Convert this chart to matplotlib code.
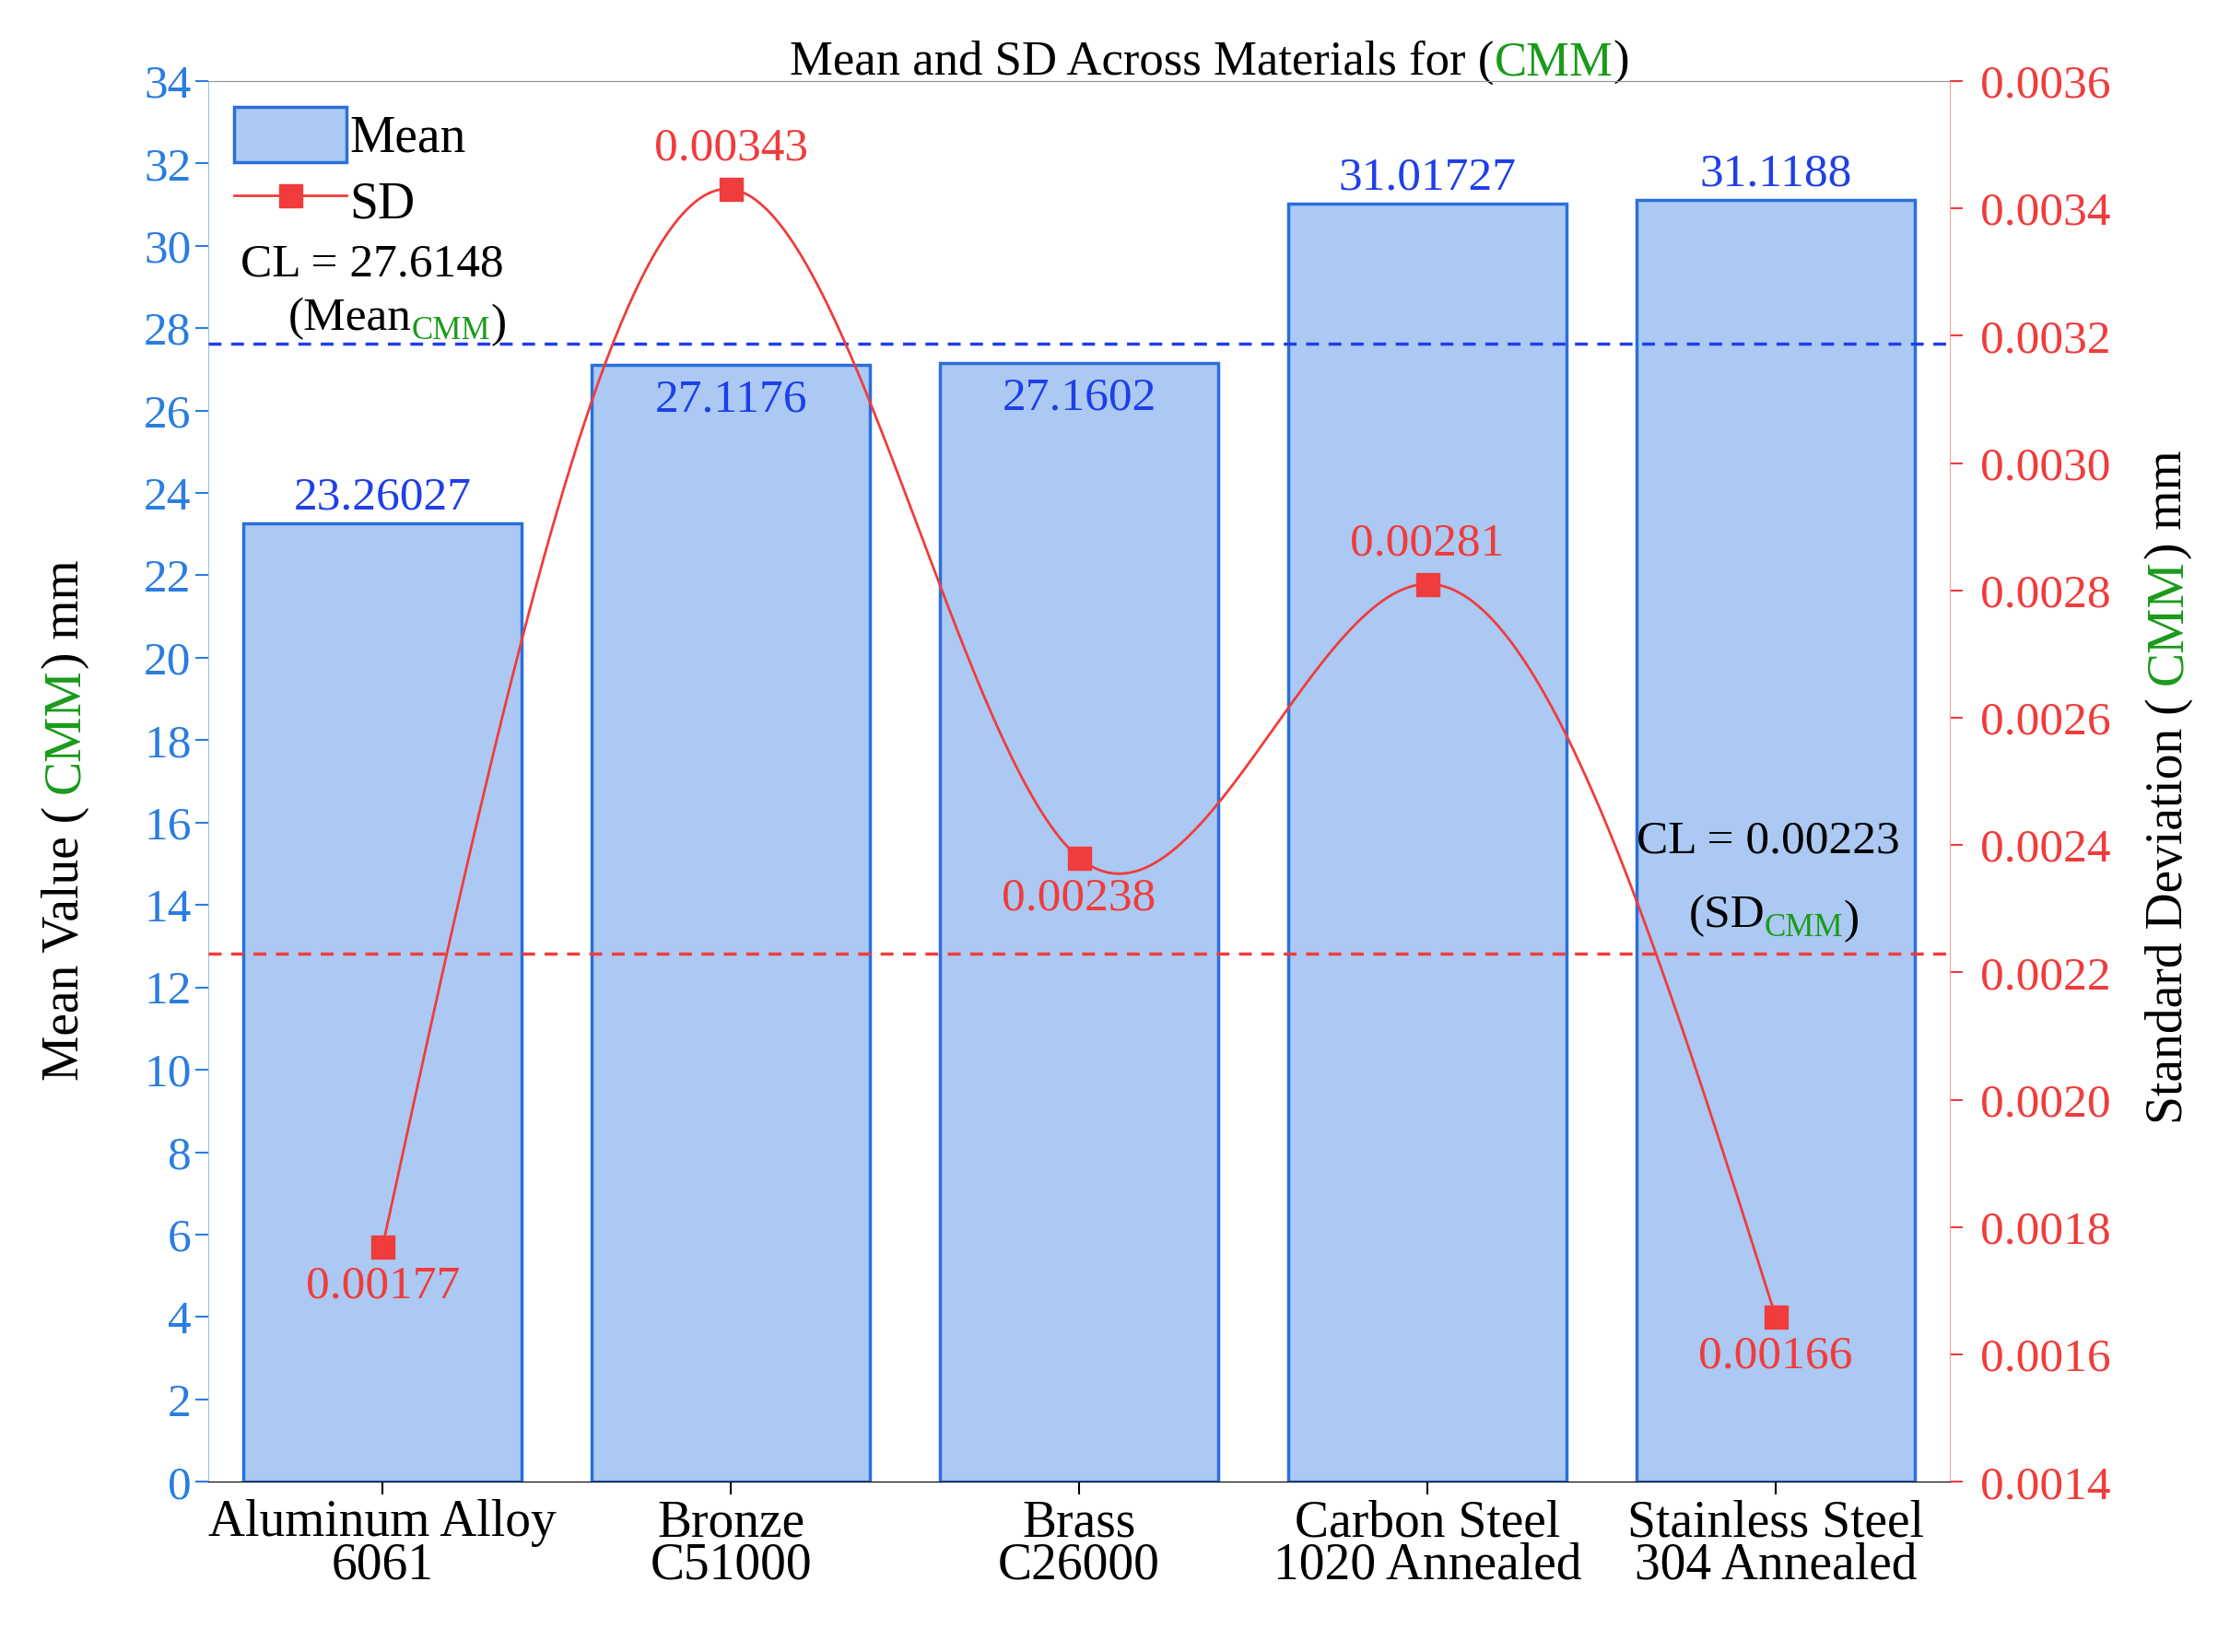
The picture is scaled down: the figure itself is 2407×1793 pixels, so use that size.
import matplotlib
matplotlib.use("Agg")
import matplotlib.pyplot as plt
import numpy as np
from matplotlib.lines import Line2D
from matplotlib.patches import Patch

plt.rcParams["font.family"] = "Liberation Serif"

materials = ["Aluminum Alloy\n6061", "Bronze\nC51000", "Brass\nC26000",
             "Carbon Steel\n1020 Annealed", "Stainless Steel\n304 Annealed"]
mean_vals = [23.26027, 27.1176, 27.1602, 31.01727, 31.1188]
mean_labels = ["23.26027", "27.1176", "27.1602", "31.01727", "31.1188"]
sd_vals = [0.00177, 0.00343, 0.00238, 0.00281, 0.00166]
sd_labels = ["0.00177", "0.00343", "0.00238", "0.00281", "0.00166"]
cl_mean = 27.6148
cl_sd = 0.00223

BLUE = "#1f3fe8"
TICK_BLUE = "#2a7de1"
RED = "#f03c3c"
GREEN = "#1a9a1a"
BAR = "#abc9f2"
BAR_EDGE = "#2a6fdb"
FS = 37


def natural_spline(x, y, n=400):
    x = np.asarray(x, float)
    y = np.asarray(y, float)
    k = len(x)
    h = np.diff(x)
    A = np.zeros((k, k))
    b = np.zeros(k)
    A[0, 0] = A[-1, -1] = 1
    for i in range(1, k - 1):
        A[i, i - 1] = h[i - 1]
        A[i, i] = 2 * (h[i - 1] + h[i])
        A[i, i + 1] = h[i]
        b[i] = 6 * ((y[i + 1] - y[i]) / h[i] - (y[i] - y[i - 1]) / h[i - 1])
    m = np.linalg.solve(A, b)
    xs = np.linspace(x[0], x[-1], n)
    idx = np.clip(np.searchsorted(x, xs) - 1, 0, k - 2)
    x0, x1 = x[idx], x[idx + 1]
    hh = x1 - x0
    t0, t1 = x1 - xs, xs - x0
    ys = (m[idx] * t0 ** 3 + m[idx + 1] * t1 ** 3) / (6 * hh) \
        + (y[idx] / hh - m[idx] * hh / 6) * t0 + (y[idx + 1] / hh - m[idx + 1] * hh / 6) * t1
    return xs, ys


def colored_chain(ax, parts, x, y, rotation=0, fontsize=FS, **kw):
    """Draw text parts side by side; each part = (text, color, size_scale, dy)."""
    first, color, scale, _ = parts[0]
    t = ax.text(x, y, first, color=color, fontsize=fontsize * scale,
                rotation=rotation, **kw)
    prev = t
    for txt, color, scale, dy in parts[1:]:
        if rotation == 90:
            prev = ax.annotate(txt, xy=(0.5 + dy, 1), xycoords=prev, ha="center",
                               va="bottom", rotation=90, color=color,
                               fontsize=fontsize * scale)
        else:
            prev = ax.annotate(txt, xy=(1, 0.0 + dy), xycoords=prev, ha="left",
                               va="bottom", color=color, fontsize=fontsize * scale)
    return t


fig = plt.figure(figsize=(24.07, 17.93), dpi=100)
ax = fig.add_axes([0.094, 0.103, 0.785, 0.848])
ax2 = ax.twinx()

x = np.arange(len(materials))
ax.bar(x, mean_vals, width=0.8, color=BAR, edgecolor=BAR_EDGE, linewidth=2.5, zorder=2)
ax.set_xlim(-0.5, 4.5)
ax.set_ylim(0, 34)
ax.set_yticks(np.arange(0, 35, 2))
ax.tick_params(axis="y", colors=TICK_BLUE, labelsize=FS, length=10, width=1.5)
ax.tick_params(axis="x", labelsize=40, length=10, width=1.5)
ax.set_xticks(x)
ax.set_xticklabels(materials, linespacing=0.85)
ax.spines["left"].set_color("#9cc0f0")
ax.spines["top"].set_color("#999999")
ax.spines["bottom"].set_color("#999999")
ax.spines["right"].set_visible(False)

for i, (v, lab) in enumerate(zip(mean_vals, mean_labels)):
    if i in (1, 2):
        ax.text(i, v - 0.35, lab, ha="center", va="top", color=BLUE, fontsize=FS)
    else:
        ax.text(i, v + 0.1, lab, ha="center", va="bottom", color=BLUE, fontsize=FS)

ax.axhline(cl_mean, color=BLUE, linestyle=(0, (4, 3)), linewidth=2.5, zorder=3)

xs, ys = natural_spline(x, sd_vals)
ax2.plot(xs, ys, color=RED, linewidth=2, zorder=4)
ax2.plot(x, sd_vals, linestyle="none", marker="s", markersize=18, color=RED, zorder=5)
ax2.set_ylim(0.0014, 0.0036)
ax2.set_yticks(np.arange(0.0014, 0.00361, 0.0002))
ax2.set_yticklabels([f"{v:.4f}" for v in np.arange(0.0014, 0.00361, 0.0002)])
ax2.tick_params(axis="y", colors=RED, labelsize=FS, length=10, width=1.5, pad=14)
ax2.spines["right"].set_color("#f5a0a0")
ax2.spines["left"].set_visible(False)
ax2.spines["top"].set_color("#999999")
ax2.axhline(cl_sd, color=RED, linestyle=(0, (4, 3)), linewidth=2.5, zorder=3)

for i, (v, lab) in enumerate(zip(sd_vals, sd_labels)):
    if i in (1, 3):
        ax2.text(i, v + 0.00003, lab, ha="center", va="bottom", color=RED, fontsize=FS)
    else:
        ax2.text(i, v - 0.00003, lab, ha="center", va="top", color=RED, fontsize=FS)

# CL labels
ax.text(-0.03, 29.55, "CL = 27.6148", ha="center", va="center", fontsize=FS)
colored_chain(ax, [("(Mean", "black", 1, 0), ("CMM", GREEN, 0.68, -0.15), (")", "black", 1, 0)],
              -0.27, 27.95)
ax2.text(3.98, 0.002405, "CL = 0.00223", ha="center", va="center", fontsize=FS)
colored_chain(ax2, [("(SD", "black", 1, 0), ("CMM", GREEN, 0.68, -0.15), (")", "black", 1, 0)],
              3.75, 0.002272)

# title and y labels
colored_chain(ax, [("Mean and SD Across Materials for (", "black", 1, 0), ("CMM", GREEN, 1, 0),
                   (")", "black", 1, 0)], 1.17, 34.15, fontsize=38)
colored_chain(ax, [("Mean Value ( ", "black", 1, 0), ("CMM", GREEN, 1, 0), (") mm", "black", 1, 0)],
              -0.98, 10.0, rotation=90, fontsize=40)
colored_chain(ax2, [("Standard Deviation ( ", "black", 1, 0), ("CMM", GREEN, 1, 0), (") mm", "black", 1, 0)],
              5.06, 0.00198, rotation=90, fontsize=40)

handles = [Patch(facecolor=BAR, edgecolor=BAR_EDGE, linewidth=2.5),
           Line2D([], [], color=RED, marker="s", markersize=18, linewidth=2)]
ax.legend(handles, ["Mean", "SD"], loc="upper left", frameon=False, fontsize=40,
          handlelength=2.2, handleheight=1.3, borderaxespad=0.1, handletextpad=0.05,
          labelspacing=0.2)

fig.savefig("out.png", dpi=100)
